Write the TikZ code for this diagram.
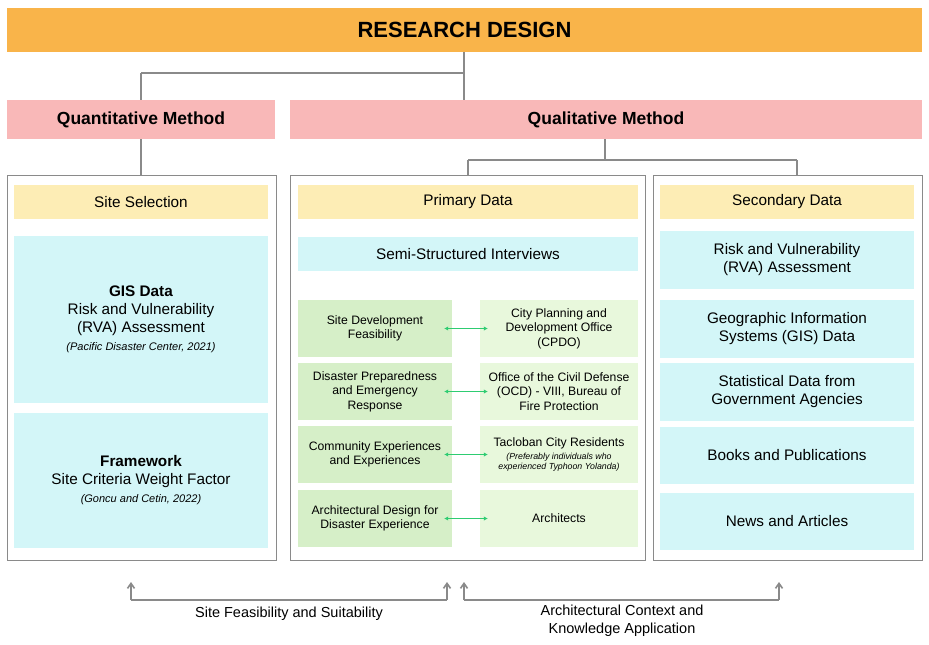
\documentclass[tikz,border=0pt]{standalone}
\usepackage{fontspec}
\setmainfont{Liberation Sans}
\usetikzlibrary{arrows.meta}
\definecolor{orng}{HTML}{F9B44A}
\definecolor{pnk}{HTML}{F9B8B8}
\definecolor{ylw}{HTML}{FDEDB5}
\definecolor{cyn}{HTML}{D3F6F8}
\definecolor{grnA}{HTML}{D6EFC8}
\definecolor{grnB}{HTML}{E8F8DC}
\definecolor{gln}{HTML}{8A8A8A}
\definecolor{arr}{HTML}{2ECC71}
\begin{document}
\begin{tikzpicture}[x=1pt,y=-1pt,
  box/.style={draw=none,align=center,inner sep=0pt},
  outer/.style={draw=gln,line width=1pt,fill=white},
  conn/.style={draw=gln,line width=1.6pt},
  up/.style={draw=gln,line width=1.6pt,-{Straight Barb[length=5pt,width=7pt]}},
  dbl/.style={draw=arr,line width=1.3pt,{Latex[length=4pt,width=4.5pt]}-{Latex[length=4pt,width=4.5pt]}},
  gfont/.style={font=\fontsize{12.2}{14.5}\selectfont},
  cfont/.style={font=\fontsize{15.3}{18}\selectfont}]
\useasboundingbox (0,0) rectangle (929,645);
\fill[white] (0,0) rectangle (929,645);
% connectors top
\draw[conn] (464,52) -- (464,100);
\draw[conn] (141,73) -- (464,73);
\draw[conn] (141,73) -- (141,100);
\draw[conn] (141,139) -- (141,175);
\draw[conn] (605,139) -- (605,160);
\draw[conn] (468,160) -- (797,160);
\draw[conn] (468,160) -- (468,175);
\draw[conn] (797,160) -- (797,175);
% header
\node[box,fill=orng,minimum width=915pt,minimum height=44pt,font=\fontsize{22}{25}\selectfont\bfseries] (rd) at (464.5,30) {RESEARCH DESIGN};
\node[box,fill=pnk,minimum width=268pt,minimum height=39pt,font=\fontsize{17.5}{20}\selectfont\bfseries] (qn) at (141,119.5) {Quantitative Method};
\node[box,fill=pnk,minimum width=632pt,minimum height=39pt,font=\fontsize{17.5}{20}\selectfont\bfseries] (ql) at (606,119.5) {Qualitative Method};
% outer boxes
\draw[outer] (7,175) rectangle (276,560);
\draw[outer] (290,175) rectangle (645,560);
\draw[outer] (653,175) rectangle (922,560);
% left column
\node[box,fill=ylw,minimum width=254pt,minimum height=34pt,cfont] (ss) at (141,202) {Site Selection};
\node[box,fill=cyn,minimum width=254pt,minimum height=167pt,cfont] (gis) at (141,319.5) {\textbf{GIS Data}\\Risk and Vulnerability\\(RVA) Assessment\\{\fontsize{11}{12}\selectfont\itshape (Pacific Disaster Center, 2021)}};
\node[box,fill=cyn,minimum width=254pt,minimum height=135pt,cfont] (fw) at (141,480.5) {\textbf{Framework}\\Site Criteria Weight Factor\\{\fontsize{11}{12}\selectfont\itshape (Goncu and Cetin, 2022)}};
% middle column
\node[box,fill=ylw,minimum width=340pt,minimum height=34pt,cfont] (pd) at (468,202) {Primary Data};
\node[box,fill=cyn,minimum width=340pt,minimum height=34pt,cfont] (ssi) at (468,254) {Semi-Structured Interviews};
\foreach \n/\y/\a/\b in {
 1/328.5/{Site Development\\Feasibility}/{City Planning and\\Development Office\\(CPDO)},
 2/391.5/{Disaster Preparedness\\and Emergency\\Response}/{Office of the Civil Defense\\(OCD) - VIII, Bureau of\\Fire Protection},
 3/454.5/{Community Experiences\\and Experiences}/{Tacloban City Residents\\[-2pt]{\fontsize{8.8}{9}\selectfont\itshape (Preferably individuals who}\\[-4pt]{\fontsize{8.8}{9}\selectfont\itshape experienced Typhoon Yolanda)}},
 4/518.5/{Architectural Design for\\Disaster Experience}/{Architects}}{
 \node[box,fill=grnA,minimum width=154pt,minimum height=57pt,gfont] (l\n) at (375,\y) {\a};
 \node[box,fill=grnB,minimum width=158pt,minimum height=57pt,gfont] (r\n) at (559,\y) {\b};
 \draw[dbl] ([xshift=-8pt]l\n.east) -- ([xshift=8pt]r\n.west);
}
% right column
\node[box,fill=ylw,minimum width=254pt,minimum height=34pt,cfont] (sd) at (787,202) {Secondary Data};
\node[box,fill=cyn,minimum width=254pt,minimum height=58pt,cfont] (s1) at (787,260) {Risk and Vulnerability\\(RVA) Assessment};
\node[box,fill=cyn,minimum width=254pt,minimum height=58pt,cfont] (s2) at (787,329) {Geographic Information\\Systems (GIS) Data};
\node[box,fill=cyn,minimum width=254pt,minimum height=58pt,cfont] (s3) at (787,392) {Statistical Data from\\Government Agencies};
\node[box,fill=cyn,minimum width=254pt,minimum height=57pt,cfont] (s4) at (787,455.5) {Books and Publications};
\node[box,fill=cyn,minimum width=254pt,minimum height=57pt,cfont] (s5) at (787,521.5) {News and Articles};
% bottom arrows
\coordinate (a1) at (131,600); \coordinate (a1t) at (131,582);
\coordinate (a2) at (447,600); \coordinate (a2t) at (447,582);
\coordinate (b1) at (464,600); \coordinate (b1t) at (464,582);
\coordinate (b2) at (779,600); \coordinate (b2t) at (779,582);
\draw[conn] (a1) -- (a2); \draw[up] (a1) -- (a1t); \draw[up] (a2) -- (a2t);
\draw[conn] (b1) -- (b2); \draw[up] (b1) -- (b1t); \draw[up] (b2) -- (b2t);
\node[box,font=\fontsize{14.5}{18}\selectfont] (t1) at (289,614) {Site Feasibility and Suitability};
\node[box,font=\fontsize{14.5}{18}\selectfont,anchor=north] (t2) at (622,605) {Architectural Context and\\Knowledge Application};
\end{tikzpicture}
\end{document}
